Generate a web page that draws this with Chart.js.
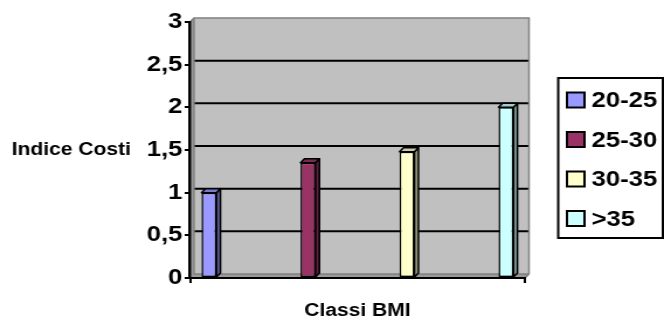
<!DOCTYPE html>
<html>
<head>
<meta charset="utf-8">
<script src="https://cdn.jsdelivr.net/npm/chart.js@4.4.1/dist/chart.umd.min.js"></script>
<style>
  html, body { margin: 0; padding: 0; background: #fff; overflow: hidden; }
  /* the source picture is an Excel chart stretched sideways, so stretch the canvas too */
  #chart { display: block; transform: scaleX(1.169); transform-origin: 0 0; }
</style>
</head>
<body>
<canvas id="chart" width="568" height="320"></canvas>
<script>
const categories = [''];
const seriesNames = ['20-25', '25-30', '30-35', '>35'];
const seriesValues = [[1], [1.35], [1.48], [2]];
const seriesColors = ['#9999FF', '#993366', '#FFFFCC', '#CCFFFF'];
const yTickLabels = ['0', '0,5', '1', '1,5', '2', '2,5', '3'];
const yTitle = 'Indice Costi';
const xTitle = 'Classi BMI';

const FONT = '"Liberation Sans", Arial, sans-serif';
const DX = 3.4, DY = 4; // 3D depth

function shade(hex, f) {
    const n = parseInt(hex.slice(1), 16);
    const r = Math.round(((n >> 16) & 255) * f);
    const g = Math.round(((n >> 8) & 255) * f);
    const b = Math.round((n & 255) * f);
    return `rgb(${r},${g},${b})`;
}

// back wall, side wall, floor and gridlines
const wall3d = {
    id: 'wall3d',
    beforeDraw(chart) {
        const { ctx, chartArea: a, scales: { y } } = chart;
        ctx.save();
        ctx.fillStyle = '#9A9A9A';
        ctx.beginPath();
        ctx.moveTo(a.left, a.top);
        ctx.lineTo(a.left + DX, a.top - DY);
        ctx.lineTo(a.left + DX, a.bottom - DY);
        ctx.lineTo(a.right + DX, a.bottom - DY);
        ctx.lineTo(a.right, a.bottom);
        ctx.lineTo(a.left, a.bottom);
        ctx.closePath();
        ctx.fill();

        ctx.fillStyle = '#C0C0C0';
        ctx.fillRect(a.left + DX, a.top - DY, a.right - a.left, a.bottom - a.top);

        ctx.strokeStyle = '#000';
        ctx.lineWidth = 2;
        y.ticks.forEach(t => {
            if (t.value <= y.min || t.value >= y.max) return;
            const py = y.getPixelForValue(t.value) - DY;
            ctx.beginPath();
            ctx.moveTo(a.left + DX, py);
            ctx.lineTo(a.right + DX, py);
            ctx.stroke();
        });

        ctx.strokeStyle = '#808080';
        ctx.lineWidth = 1.5;
        ctx.beginPath();
        ctx.moveTo(a.left, a.top);
        ctx.lineTo(a.left + DX, a.top - DY);
        ctx.lineTo(a.right + DX, a.top - DY);
        ctx.lineTo(a.right + DX, a.bottom - DY);
        ctx.lineTo(a.right, a.bottom);
        ctx.moveTo(a.left + DX, a.top - DY);
        ctx.lineTo(a.left + DX, a.bottom - DY);
        ctx.lineTo(a.right + DX, a.bottom - DY);
        ctx.stroke();
        ctx.restore();
    }
};

// side and top faces of the bars
const bars3d = {
    id: 'bars3d',
    afterDatasetsDraw(chart) {
        const ctx = chart.ctx;
        ctx.save();
        ctx.strokeStyle = '#000';
        ctx.lineWidth = 1.5;
        ctx.lineJoin = 'round';
        chart.data.datasets.forEach((ds, i) => {
            chart.getDatasetMeta(i).data.forEach(bar => {
                const { x, y, base, width } = bar.getProps(['x', 'y', 'base', 'width'], true);
                const x0 = x - width / 2, x1 = x + width / 2;
                ctx.fillStyle = shade(seriesColors[i], 0.6);
                ctx.beginPath();
                ctx.moveTo(x1, y);
                ctx.lineTo(x1 + DX, y - DY);
                ctx.lineTo(x1 + DX, base - DY);
                ctx.lineTo(x1, base);
                ctx.closePath();
                ctx.fill();
                ctx.stroke();
                ctx.fillStyle = shade(seriesColors[i], 0.8);
                ctx.beginPath();
                ctx.moveTo(x0, y);
                ctx.lineTo(x0 + DX, y - DY);
                ctx.lineTo(x1 + DX, y - DY);
                ctx.lineTo(x1, y);
                ctx.closePath();
                ctx.fill();
                ctx.stroke();
            });
        });
        ctx.restore();
    }
};

// horizontal y title and boxed legend
const extras = {
    id: 'extras',
    afterDraw(chart) {
        const { ctx, scales: { y } } = chart;
        ctx.save();
        ctx.fillStyle = '#000';
        ctx.font = `bold 18px ${FONT}`;
        ctx.textAlign = 'left';
        ctx.textBaseline = 'middle';
        ctx.fillText(yTitle, 10, y.getPixelForValue(1.5));

        const box = { left: 477.5, top: 78, right: 567, bottom: 238 };
        ctx.strokeStyle = '#000';
        ctx.lineWidth = 2;
        ctx.strokeRect(box.left, box.top, box.right - box.left, box.bottom - box.top);
        ctx.font = `bold 22px ${FONT}`;
        seriesNames.forEach((name, i) => {
            const cy = box.top + 22 + i * 39.5;
            ctx.fillStyle = seriesColors[i];
            ctx.fillRect(485, cy - 7.5, 15, 15);
            ctx.strokeRect(485, cy - 7.5, 15, 15);
            ctx.fillStyle = '#000';
            ctx.fillText(name, 506, cy + 1);
        });
        ctx.restore();
    }
};

new Chart(document.getElementById('chart'), {
    type: 'bar',
    data: {
        labels: categories,
        datasets: seriesNames.map((name, i) => ({
            label: name,
            data: seriesValues[i],
            backgroundColor: seriesColors[i],
            borderColor: '#000',
            borderWidth: 1.5,
            borderSkipped: false,
            categoryPercentage: 1.182,
            barPercentage: 0.151
        }))
    },
    options: {
        responsive: false,
        animation: false,
        layout: { padding: { left: 0, right: 118.9, top: 22, bottom: 0 } },
        plugins: {
            legend: { display: false },
            tooltip: { enabled: false }
        },
        scales: {
            x: {
                offset: true,
                ticks: { display: false },
                grid: { offset: true, drawOnChartArea: false, drawTicks: true, tickLength: 5, color: '#000', lineWidth: 2 },
                border: { display: true, color: '#000', width: 2 },
                title: {
                    display: true, text: xTitle, color: '#000', padding: 0,
                    font: { family: FONT, size: 18, weight: 'bold', lineHeight: 1 }
                },
                afterFit: s => { s.height = 42; }
            },
            y: {
                min: 0,
                max: 3,
                ticks: {
                    stepSize: 0.5, padding: 2, color: '#000',
                    font: { family: FONT, size: 22, weight: 'bold' },
                    callback: (v, i) => yTickLabels[i]
                },
                grid: { drawOnChartArea: false, drawTicks: true, tickLength: 4.5, color: '#000', lineWidth: 2 },
                border: { display: true, color: '#000', width: 2.5 },
                afterFit: s => { s.width = 162.5; }
            }
        }
    },
    plugins: [wall3d, bars3d, extras]
});
</script>
</body>
</html>
